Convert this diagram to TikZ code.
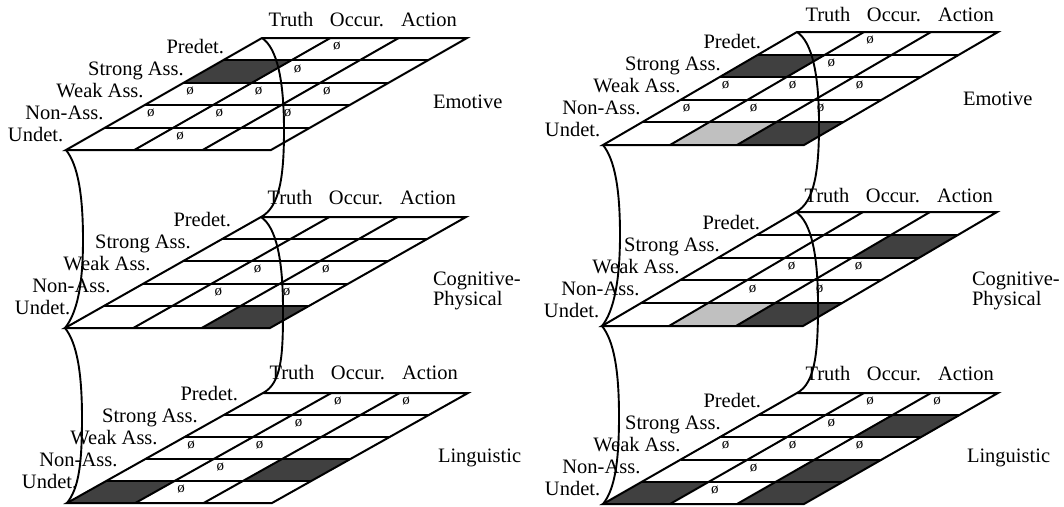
\documentclass[tikz,border=0pt]{standalone}
\usepackage{fontspec}
\setmainfont{Liberation Serif}
\usetikzlibrary{calc}

\definecolor{cellDark}{HTML}{404040}
\definecolor{cellLight}{HTML}{C0C0C0}

\tikzset{
  gridline/.style={line width=2pt,line join=miter},
  sheetline/.style={line width=1.9pt},
  darkcell/.style={fill=cellDark},
  lightcell/.style={fill=cellLight},
  txt/.style={inner sep=0pt,outer sep=0pt,font=\fontsize{20.5}{18.5}\selectfont},
  rowlab/.style={txt,anchor=base east},
  collab/.style={txt,anchor=base},
  laylab/.style={txt,anchor=west,align=left},
  nul/.style={inner sep=0pt,font=\fontsize{15}{15}\selectfont},
}

% grid points (name-row-col) of one 5x3 sheet: bottom-left corner (#2,#3), height #4
\newcommand\layDefine[4]{%
  \foreach \r in {0,...,5}{\foreach \c in {0,...,3}{%
    \coordinate (#1-\r-\c) at ({#2+\LS*(5-\r)/5+\LW*\c/3},{#3-#4+#4*\r/5});}}
  \coordinate (#1-tl) at (#1-0-0);
  \coordinate (#1-bl) at (#1-5-0);
}
% shaded cell: sheet, row, column, style
\newcommand\layShade[4]{%
  \pgfmathtruncatemacro\rr{#2+1}\pgfmathtruncatemacro\cc{#3+1}%
  \fill[#4] (#1-#2-#3) -- (#1-#2-\cc) -- (#1-\rr-\cc) -- (#1-\rr-#3) -- cycle;
}
% grid lines, empty-set marks and row/column headings
\newcommand\layDraw[4]{%
  \foreach \r in {1,...,4} \draw[gridline] (#1-\r-0) -- (#1-\r-3);
  \foreach \c in {1,2} \draw[gridline] (#1-0-\c) -- (#1-5-\c);
  \draw[gridline] (#1-0-0) -- (#1-0-3) -- (#1-5-3) -- (#1-5-0) -- cycle;
  \foreach \r/\c in {#2}{%
    \pgfmathtruncatemacro\rr{\r+1}\pgfmathtruncatemacro\cc{\c+1}%
    \node[nul] (#1-n\r\c) at ($(#1-\r-\c)!0.5!(#1-\rr-\cc)+(-8,-3)$) {ø};}
  \foreach \t [count=\i from 0] in {Predet.,Strong Ass.,Weak Ass.,Non-Ass.,Undet.}
    \node[rowlab] (#1-row\i) at ($(#1-bl)+({158-40.2*\i+#3},{-96.5+22*\i+#4})$) {\t};
  \node[collab] (#1-truth) at ($(#1-bl)+(225,-123.5)$) {Truth};
  \node[collab] (#1-occur) at ($(#1-bl)+(291,-123.5)$) {Occur.};
  \node[collab] (#1-action) at ($(#1-bl)+(363,-123.5)$) {Action};
}
% curled sheet joining two stacked layers
\newcommand\laySheets[2]{%
  \draw[sheetline] (#1-tl) .. controls +(15,10) and +(0,-50) .. ($(#1-tl)+(22,92)$)
    .. controls +(0,45) and +(19,-10) .. (#2-tl);
  \draw[sheetline] (#1-bl) .. controls +(12,15) and +(0,-45) .. ($(#1-bl)+(17,90)$)
    .. controls +(0,45) and +(12,-15) .. (#2-bl);
}

\begin{document}
\begin{tikzpicture}[x=1pt,y=-1pt]
\useasboundingbox (0,0) rectangle (1064,506);

% ---------- left stack ----------
\def\LW{205}\def\LS{196}
\layDefine{L1}{66}{150}{112}
\layDefine{L2}{65}{328}{111}
\layDefine{L3}{67}{503}{110}
\layShade{L1}{1}{0}{darkcell}
\layShade{L2}{4}{2}{darkcell}
\layShade{L3}{4}{0}{darkcell}
\layShade{L3}{3}{2}{darkcell}
\layDraw{L1}{0/1,1/1,2/0,2/1,2/2,3/0,3/1,3/2,4/1}{0}{0}
\layDraw{L2}{2/1,2/2,3/1,3/2}{8}{-5}
\layDraw{L3}{0/1,0/2,1/1,2/0,2/1,3/1,4/1}{13}{-6}
\laySheets{L1}{L2}
\laySheets{L2}{L3}
\node[laylab] (L1-name) at (433,102) {Emotive};
\node[laylab] (L2-name) at (433,291) {Cognitive-\\Physical};
\node[laylab] (L3-name) at (438,458) {Linguistic};

% ---------- right stack ----------
\def\LW{201}\def\LS{194}
\layDefine{R1}{603}{145}{113}
\layDefine{R2}{602}{326}{114}
\layDefine{R3}{603}{504}{111}
\layShade{R1}{1}{0}{darkcell}
\layShade{R1}{4}{1}{lightcell}
\layShade{R1}{4}{2}{darkcell}
\layShade{R2}{1}{2}{darkcell}
\layShade{R2}{4}{1}{lightcell}
\layShade{R2}{4}{2}{darkcell}
\layShade{R3}{1}{2}{darkcell}
\layShade{R3}{3}{2}{darkcell}
\layShade{R3}{4}{0}{darkcell}
\layShade{R3}{4}{2}{darkcell}
\layDraw{R1}{0/1,1/1,2/0,2/1,2/2,3/0,3/1,3/2}{0}{0}
\layDraw{R2}{2/1,2/2,3/1,3/2}{0}{0}
\layDraw{R3}{0/1,0/2,1/1,2/0,2/1,2/2,3/1,4/1}{0}{0}
\laySheets{R1}{R2}
\laySheets{R2}{R3}
\node[laylab] (R1-name) at (963,99) {Emotive};
\node[laylab] (R2-name) at (972,291) {Cognitive-\\Physical};
\node[laylab] (R3-name) at (967,458) {Linguistic};
\end{tikzpicture}
\end{document}
